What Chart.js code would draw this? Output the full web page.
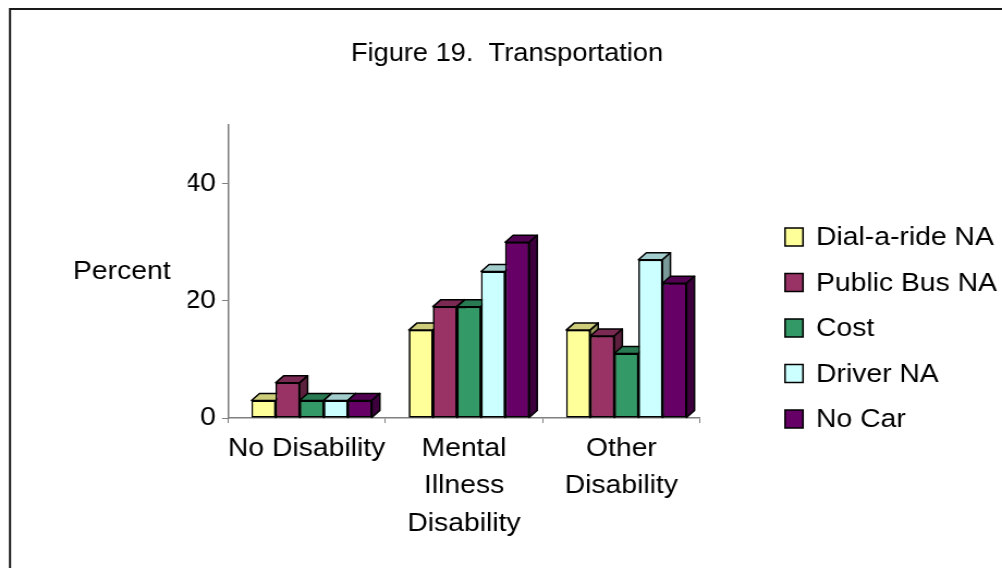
<!DOCTYPE html>
<html>
<head>
<meta charset="utf-8">
<title>Figure 19. Transportation</title>
<script src="https://cdn.jsdelivr.net/npm/chart.js@4.4.1/dist/chart.umd.min.js"></script>
<style>
  html, body { margin: 0; padding: 0; background: #fff; overflow: hidden; }
  /* the figure is laid out narrower and stretched sideways, like the original sheet */
  canvas { display: block; transform-origin: 0 0; }
</style>
</head>
<body>
<canvas id="chart"></canvas>
<script>
// ── data ──
const categories = ['No Disability', ['Mental', 'Illness', 'Disability'], ['Other', 'Disability']];
const seriesNames = ['Dial-a-ride NA', 'Public Bus NA', 'Cost', 'Driver NA', 'No Car'];
const dialARide = [3, 15, 15];
const publicBus = [6, 19, 14];
const cost = [3, 19, 11];
const driverNA = [3, 25, 27];
const noCar = [3, 30, 23];
const yTicks = [0, 20, 40];

const COLORS = ['#FFFF99', '#993366', '#339966', '#CCFFFF', '#660066'];
const FONT = "'Liberation Sans', Arial, sans-serif";
const AXIS = '#808080';

// ── geometry: canvas is drawn W wide and stretched by SX to the page width ──
const PAGE_W = 1002, H = 568, W = 920;
const SX = PAGE_W / W;
const px = v => v / SX;          // page x -> canvas x
const DX = px(8), DY = 7;        // depth of the pseudo-3d columns
const FLOOR_SHIFT = px(5);       // columns sit a little back on the floor

const canvas = document.getElementById('chart');
canvas.width = W;
canvas.height = H;
canvas.style.width = W + 'px';
canvas.style.height = H + 'px';
canvas.style.transform = `scaleX(${SX})`;

Chart.defaults.font.family = FONT;
Chart.defaults.color = '#000';

function shade(hex, f) {
    const n = parseInt(hex.slice(1), 16);
    const c = [(n >> 16) & 255, (n >> 8) & 255, n & 255].map(v => Math.round(v * f));
    return `rgb(${c[0]},${c[1]},${c[2]})`;
}

function face(ctx, pts, fill) {
    ctx.beginPath();
    ctx.moveTo(pts[0][0], pts[0][1]);
    for (let k = 1; k < pts.length; k++) ctx.lineTo(pts[k][0], pts[k][1]);
    ctx.closePath();
    ctx.fillStyle = fill;
    ctx.fill();
    ctx.stroke();
}

// ── top and side faces, drawn series by series so later bars cover earlier sides ──
const depthPlugin = {
    id: 'depth',
    beforeDatasetsDraw(chart) {
        chart.ctx.save();
        chart.ctx.translate(FLOOR_SHIFT, 0);
    },
    afterDatasetsDraw(chart) {
        const ctx = chart.ctx;
        ctx.save();
        ctx.lineWidth = 1.5;
        ctx.strokeStyle = '#000';
        ctx.lineJoin = 'round';
        chart.data.datasets.forEach((ds, i) => {
            chart.getDatasetMeta(i).data.forEach(bar => {
                const {x, y, base, width} = bar.getProps(['x', 'y', 'base', 'width'], true);
                const l = x - width / 2, r = x + width / 2;
                bar.draw(ctx);
                face(ctx, [[l, y], [l + DX, y - DY], [r + DX, y - DY], [r, y]], shade(ds.backgroundColor, 0.8));
                face(ctx, [[r, y], [r + DX, y - DY], [r + DX, base - DY], [r, base]], shade(ds.backgroundColor, 0.6));
            });
        });
        ctx.restore();
        ctx.restore();
    }
};

// ── frame, title, axis caption and legend ──
const decorPlugin = {
    id: 'decor',
    beforeDraw(chart) {
        const ctx = chart.ctx;
        ctx.save();
        ctx.fillStyle = '#fff';
        ctx.fillRect(0, 0, chart.width, chart.height);
        ctx.strokeStyle = '#1a1a1a';
        ctx.lineWidth = 2;
        ctx.strokeRect(px(10), 9, chart.width + 20, chart.height + 20);
        ctx.restore();
    },
    afterDraw(chart) {
        const ctx = chart.ctx;
        ctx.save();
        ctx.fillStyle = '#000';
        ctx.textBaseline = 'middle';

        ctx.font = `25px ${FONT}`;
        ctx.textAlign = 'center';
        ctx.fillText('Figure 19.  Transportation', px(507), 54);

        ctx.font = `26px ${FONT}`;
        ctx.textAlign = 'left';
        ctx.fillText('Percent', px(73), 272);

        chart.data.datasets.forEach((ds, i) => {
            const cy = 237 + i * 45.5;
            ctx.fillStyle = ds.backgroundColor;
            ctx.fillRect(px(785), cy - 9, px(18), 18);
            ctx.lineWidth = 1.5;
            ctx.strokeStyle = '#000';
            ctx.strokeRect(px(785), cy - 9, px(18), 18);
            ctx.fillStyle = '#000';
            ctx.fillText(ds.label, px(816), cy + 1);
        });
        ctx.restore();
    }
};

const seriesValues = [dialARide, publicBus, cost, driverNA, noCar];

new Chart(canvas, {
    type: 'bar',
    data: {
        labels: categories,
        datasets: seriesNames.map((name, i) => ({
            label: name,
            data: seriesValues[i],
            backgroundColor: COLORS[i],
            borderColor: '#000',
            borderWidth: 1.5,
            borderSkipped: false,
            barPercentage: 1,
            categoryPercentage: 0.765,
        }))
    },
    options: {
        responsive: false,
        animation: false,
        devicePixelRatio: 1,
        layout: {
            padding: { left: px(228 - 40), right: W - px(700), top: 125, bottom: 0 }
        },
        plugins: {
            legend: { display: false },
            tooltip: { enabled: false },
            title: { display: false }
        },
        scales: {
            x: {
                grid: {
                    drawOnChartArea: false,
                    drawTicks: true,
                    tickLength: 5,
                    color: AXIS,
                    offset: true
                },
                border: { color: AXIS, width: 1.5 },
                ticks: {
                    color: '#000',
                    font: { size: 26, lineHeight: 1.44 },
                    padding: 7,
                    maxRotation: 0,
                    autoSkip: false
                },
                afterFit(s) { s.height = 150; }
            },
            y: {
                min: 0,
                max: 50,
                afterBuildTicks(s) { s.ticks = yTicks.map(v => ({ value: v })); },
                grid: {
                    drawOnChartArea: false,
                    tickLength: px(6),
                    color: AXIS
                },
                border: { color: AXIS, width: 1.5 },
                ticks: {
                    color: '#000',
                    font: { size: 26 },
                    padding: px(6)
                },
                afterFit(s) { s.width = px(40); }
            }
        }
    },
    plugins: [decorPlugin, depthPlugin]
});
</script>
</body>
</html>
